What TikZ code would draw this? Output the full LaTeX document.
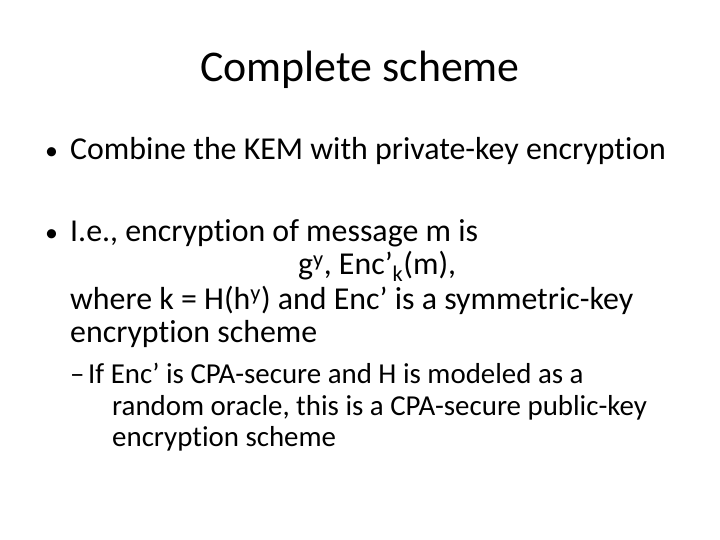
\documentclass[tikz,border=0pt]{standalone}
\usepackage{fontspec}
\setmainfont{Carlito}[RawFeature=-liga]
\tikzset{
  slideline/.style={anchor=base west, inner sep=0pt, font=\fontsize{32}{38}\selectfont},
  subline/.style={anchor=base west, inner sep=0pt, font=\fontsize{29}{34}\selectfont},
}
\begin{document}
\begin{tikzpicture}[x=1bp, y=-1bp]
  \useasboundingbox (0,0) rectangle (720,540);
  % Title
  \node[anchor=base, inner sep=0pt, font=\fontsize{44}{52}\selectfont] (title) at (360,82) {Complete scheme};

  % First bullet
  \node[slideline, font=\fontsize{26}{30}\selectfont] (dotA) at (45,160) {\textbullet};
  \node[slideline] (combine) at (70,160) {Combine the KEM with private-key encryption};

  % Second bullet
  \node[slideline, font=\fontsize{26}{30}\selectfont] (dotB) at (45,242) {\textbullet};
  \node[slideline] (ie) at (70,242) {I.e., encryption of message m is};
  \node[slideline] (cipher) at (298,275) {g\textsuperscript{y}, Enc’\textsubscript{k}(m),};
  \node[slideline] (where) at (70,309) {where k = H(h\textsuperscript{y}) and Enc’ is a symmetric-key};
  \node[slideline] (scheme) at (70,342) {encryption scheme};

  % Sub-bullet
  \node[subline] (dash) at (70,383) {–};
  \node[subline] (cpa) at (88,383) {If Enc’ is CPA-secure and H is modeled as a};
  \node[subline] (oracle) at (112,415) {random oracle, this is a CPA-secure public-key};
  \node[subline] (pubenc) at (112,446) {encryption scheme};
\end{tikzpicture}
\end{document}
